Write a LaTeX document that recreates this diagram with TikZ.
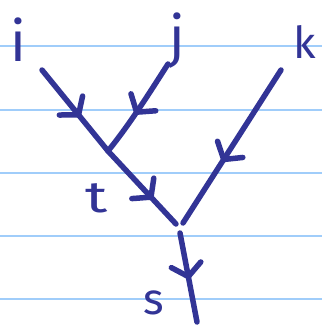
\documentclass[tikz,border=0pt]{standalone}
\usepackage{fontspec}
\setmainfont{Fira Sans}
\usetikzlibrary{arrows.meta,decorations.markings}
\definecolor{ink}{RGB}{50,52,150}
\definecolor{rulecol}{RGB}{160,205,250}
\begin{document}
\begin{tikzpicture}[x=1pt,y=-1pt,
  inkline/.style={draw=ink,line width=5.5pt,line cap=round,line join=round},
  lbl/.style={text=ink,inner sep=0pt,font=\fontsize{44}{44}\selectfont},
  biglbl/.style={lbl,font=\fontsize{56}{56}\selectfont},
  rulestyle/.style={draw=rulecol,line width=2pt},
  midarrow/.style={postaction={decorate},decoration={markings,
    mark=at position #1 with {\arrow{Straight Barb[length=12pt,width=30pt,round]}}}}]
\useasboundingbox (0,0) rectangle (322,327);
\fill[white] (0,0) rectangle (322,327);
\foreach \y in {46,110,173,236,299} \draw[rulestyle] (0,\y) -- (322,\y);
% labels
\node[biglbl] (i) at (18,40) {i};
\node[biglbl] (j) at (177,41) {j};
\node[lbl] (k) at (305,42) {k};
\node[lbl,xscale=1.4] (t) at (97,198) {t};
\node[lbl] (s) at (154,303) {s};
% connector end points
\coordinate (ie) at (42,70);
\coordinate (je) at (168,64);
\coordinate (ke) at (281,70);
\coordinate (J1) at (108,151);
\coordinate (te) at (176,224);
\coordinate (kj) at (183,223);
\coordinate (ss) at (180,233);
\coordinate (se) at (197,322);
% connectors
\draw[inkline,midarrow=0.58] (ie) -- (J1);
\draw[inkline,midarrow=0.57] (je) .. controls (150,92) and (130,124) .. (J1);
\draw[inkline,midarrow=0.66] (J1) -- (te);
\draw[inkline,midarrow=0.6] (ke) -- (kj);
\draw[inkline,midarrow=0.52] (ss) -- (se);
\end{tikzpicture}
\end{document}
